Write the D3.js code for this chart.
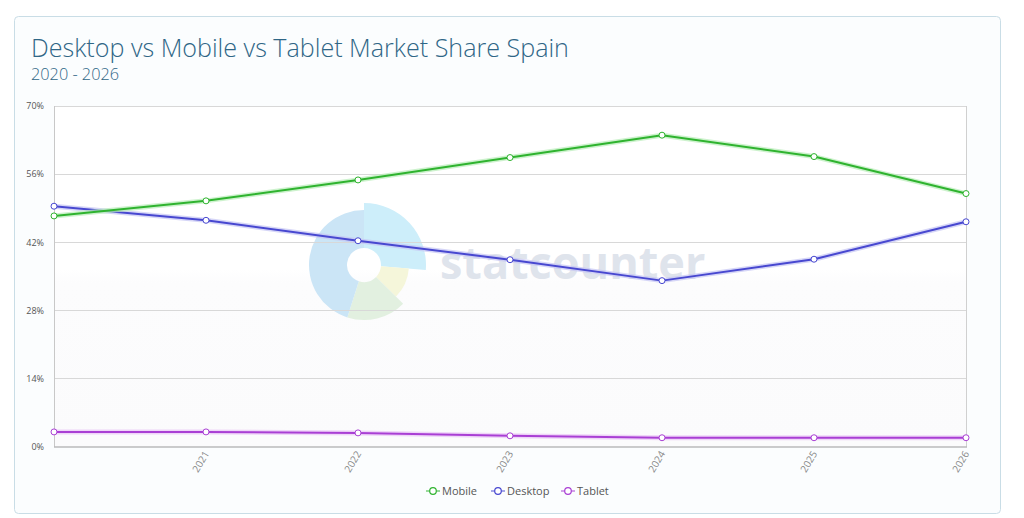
<!DOCTYPE html>
<html><head><meta charset="utf-8">
<script src="https://cdn.jsdelivr.net/npm/d3@7"></script>
<style>
html,body{margin:0;padding:0;background:#fff;}
svg{display:block;font-family:"Open Sans",sans-serif;}
</style></head>
<body><svg id="c" width="1024" height="518"></svg>
<script>
const years = [2020, 2021, 2022, 2023, 2024, 2025, 2026];
const xTickLabels = ["2021", "2022", "2023", "2024", "2025", "2026"];
const yTicks = [0, 14, 28, 42, 56, 70];
const seriesNames = ["Mobile", "Desktop", "Tablet"];
const mobile = [47.4, 50.5, 54.8, 59.4, 64.0, 59.6, 52.0];
const desktop = [49.4, 46.5, 42.3, 38.4, 34.1, 38.5, 46.2];
const tablet = [3.0, 3.0, 2.8, 2.2, 1.8, 1.8, 1.8];
const colors = ["#2fb32f", "#4848d0", "#a93fd4"];
const halo = ["#b8ecb8", "#c4c4f4", "#eac4f6"];

const svg = d3.select("#c");
const M = {left: 54, right: 966, top: 106, bottom: 446.5};

// card
svg.append("rect").attr("x", 14.5).attr("y", 16.5).attr("width", 986).attr("height", 497)
  .attr("rx", 4).attr("fill", "#fbfdfe").attr("stroke", "#c9dde6");

svg.append("text").attr("x", 31).attr("y", 57).attr("fill", "#2f6686")
  .style("font-size", "25.1px").style("font-weight", 300).text("Desktop vs Mobile vs Tablet Market Share Spain");
svg.append("text").attr("x", 31).attr("y", 80).attr("fill", "#2f6686")
  .style("font-size", "16.3px").style("font-weight", 300).text("2020 - 2026");

const x = d3.scaleLinear().domain([2020, 2026]).range([M.left, M.right]);
const y = d3.scaleLinear().domain([0, 70]).range([M.bottom, M.top]);

const defs = svg.append("defs");
const g1 = defs.append("linearGradient").attr("id", "bg").attr("x1", 0).attr("y1", 0).attr("x2", 0).attr("y2", 1);
g1.append("stop").attr("offset", "0%").attr("stop-color", "#ffffff");
g1.append("stop").attr("offset", "48%").attr("stop-color", "#ffffff");
g1.append("stop").attr("offset", "52%").attr("stop-color", "#fcfcfd");
g1.append("stop").attr("offset", "100%").attr("stop-color", "#fbfbfc");
svg.append("rect").attr("x", M.left).attr("y", M.top).attr("width", M.right - M.left)
  .attr("height", M.bottom - M.top).attr("fill", "url(#bg)");

// watermark
const wm = svg.append("g").attr("transform", "translate(364,265)");
const arc = d3.arc().innerRadius(17);
const segs = [
  {s: 0, e: 1.65, r: 62, c: "#cdeefa"},
  {s: 1.65, e: 2.35, r: 45, c: "#f5f6da"},
  {s: 2.35, e: 3.45, r: 55, c: "#e2f0e0"},
  {s: 3.45, e: 2 * Math.PI, r: 55, c: "#cbe5f6"}
];
segs.forEach(d => wm.append("path").attr("d", arc.outerRadius(d.r)({startAngle: d.s, endAngle: d.e})).attr("fill", d.c));
svg.append("text").attr("x", 440).attr("y", 279).attr("fill", "#dfe4ec")
  .style("font-size", "45px").style("font-weight", 700).text("statcounter");

// gridlines
svg.append("g").selectAll("line").data(yTicks.filter(d => d > 0)).join("line")
  .attr("x1", M.left).attr("x2", M.right).attr("y1", d => Math.round(y(d)) + 0.5).attr("y2", d => Math.round(y(d)) + 0.5)
  .attr("stroke", "#d8d8d8").attr("stroke-width", d => d === 70 ? 1 : 1.2);
// plot borders
svg.append("line").attr("x1", M.left + 0.5).attr("x2", M.left + 0.5).attr("y1", M.top).attr("y2", M.bottom).attr("stroke", "#c8c8c8");
svg.append("line").attr("x1", M.right + 0.5).attr("x2", M.right + 0.5).attr("y1", M.top).attr("y2", M.bottom).attr("stroke", "#d0d0d0");

// y axis
const yAxis = d3.axisLeft(y).tickValues(yTicks).tickSize(0).tickPadding(10).tickFormat(d => d + "%");
const ya = svg.append("g").attr("transform", `translate(${M.left},0)`).call(yAxis);
ya.select(".domain").remove();
ya.selectAll("text").attr("fill", "#555").style("font-size", "9px").style("font-family", "'Open Sans',sans-serif");

// x axis
const xAxis = d3.axisBottom(x).tickValues(years.slice(1)).tickSize(0).tickPadding(0)
  .tickFormat((d, i) => xTickLabels[i]);
const xa = svg.append("g").attr("transform", `translate(0,${M.bottom})`).call(xAxis);
xa.select(".domain").attr("stroke", "#999").attr("d", `M${M.left},0.5H${M.right + 1}`);
xa.selectAll("text").attr("fill", "#888").style("font-size", "10px").style("font-family", "'Open Sans',sans-serif")
  .attr("text-anchor", "end").attr("dy", 0).attr("y", 0)
  .attr("transform", "translate(3,7) rotate(-60)");

// lines
const data = [mobile, desktop, tablet];
const line = d3.line().x((d, i) => x(years[i])).y(d => y(d));
const order = [2, 1, 0];
order.forEach(k => {
  svg.append("path").datum(data[k]).attr("d", line).attr("fill", "none")
    .attr("stroke", halo[k]).attr("stroke-width", 5).attr("stroke-linejoin", "round").attr("opacity", 0.7);
  svg.append("path").datum(data[k]).attr("d", line).attr("fill", "none")
    .attr("stroke", colors[k]).attr("stroke-width", 2).attr("stroke-linejoin", "round");
});
order.forEach(k => {
  svg.append("g").selectAll("circle").data(data[k]).join("circle")
    .attr("cx", (d, i) => x(years[i])).attr("cy", d => y(d)).attr("r", 3)
    .attr("fill", "#fff").attr("stroke", colors[k]).attr("stroke-width", 1);
});

// legend
const legX = [426, 491, 561];
const lg = svg.append("g");
seriesNames.forEach((n, k) => {
  const gx = legX[k];
  lg.append("line").attr("x1", gx).attr("x2", gx + 14).attr("y1", 491).attr("y2", 491)
    .attr("stroke", colors[k]).attr("stroke-width", 1.2).attr("opacity", 0.8);
  lg.append("circle").attr("cx", gx + 7).attr("cy", 491).attr("r", 3.3).attr("fill", "#fff")
    .attr("stroke", colors[k]).attr("stroke-width", 1.2);
  lg.append("text").attr("x", gx + 16).attr("y", 495).attr("fill", "#555")
    .style("font-size", "11px").text(n);
});
</script></body></html>
